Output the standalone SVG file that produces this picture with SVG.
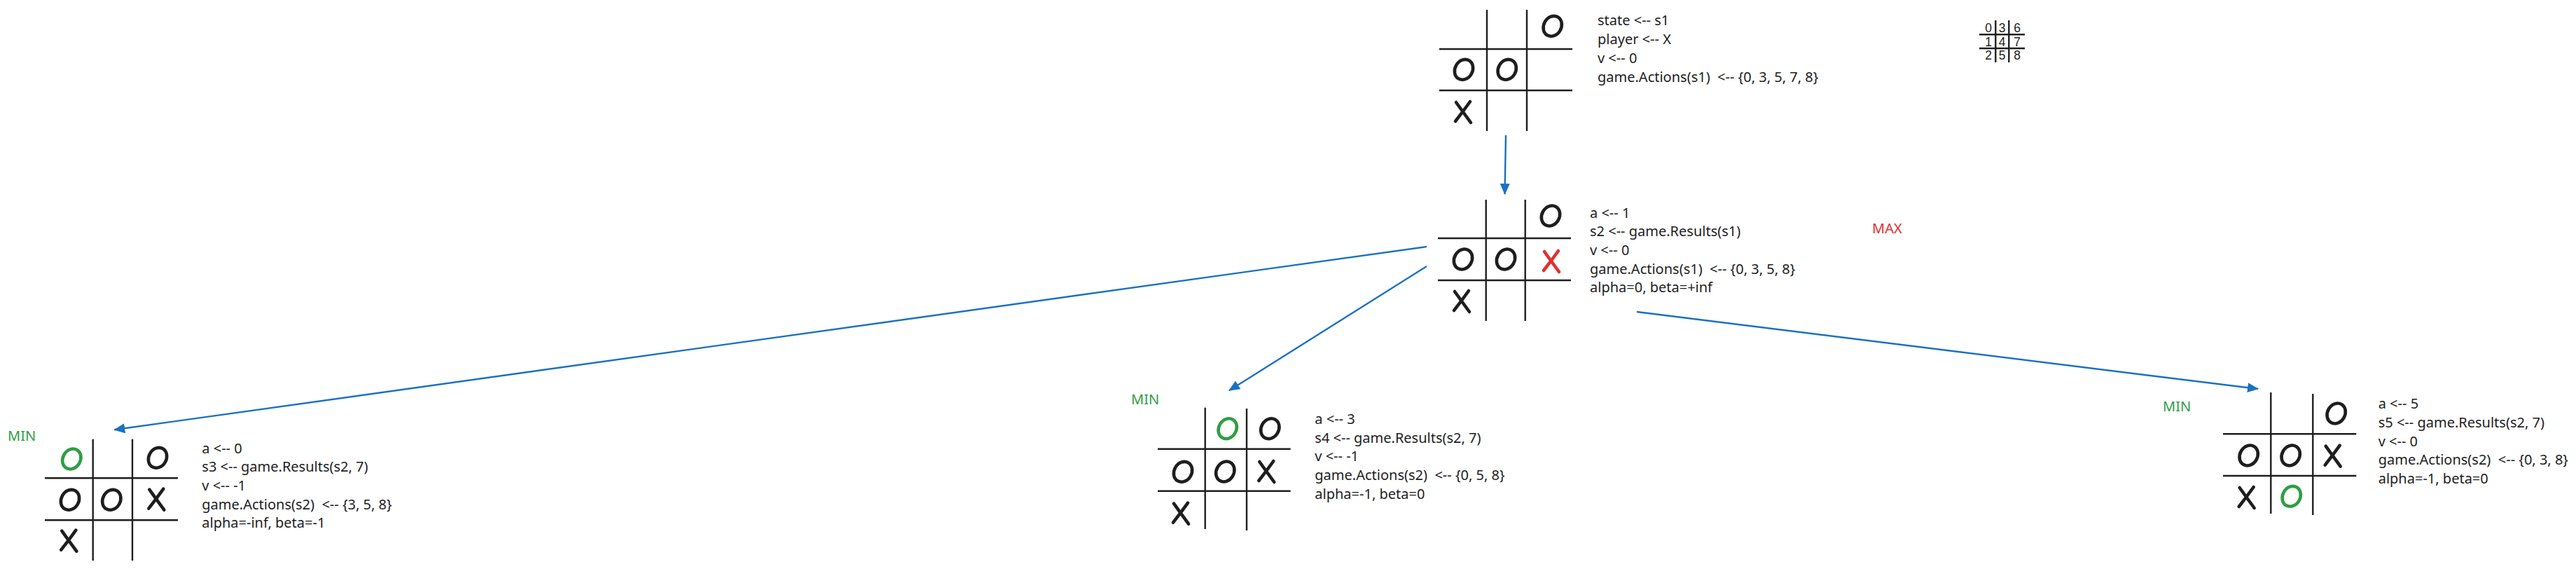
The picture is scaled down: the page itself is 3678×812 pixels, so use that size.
<svg xmlns="http://www.w3.org/2000/svg" xmlns:xlink="http://www.w3.org/1999/xlink" width="3678" height="812" viewBox="0 0 3678 812">
<style>
.grid{stroke:#1e1e1e;stroke-width:2.4;fill:none}
.pc{fill:none;stroke-width:4.6;stroke-linecap:round;stroke-linejoin:round}
.t{font-family:"Noto Sans","Open Sans",sans-serif;font-size:20px;fill:#1e1e1e;white-space:pre}
.min{font-family:"Noto Sans","Open Sans",sans-serif;font-size:20px;fill:#2f9e44}
.max{font-family:"Noto Sans","Open Sans",sans-serif;font-size:20px;fill:#e03131}
.idx{font-family:"Liberation Sans",Arial,sans-serif;font-size:17.5px;fill:#1e1e1e;text-anchor:middle}
.arrow{stroke:#1971c2;stroke-width:2.4;fill:none;marker-end:url(#ah)}
</style>
<defs>
<marker id="ah" markerUnits="userSpaceOnUse" markerWidth="18" markerHeight="16" refX="15" refY="7" orient="auto">
<path d="M0,0 L16,7 L0,14 Z" fill="#1971c2"/>
</marker>
<ellipse id="o" class="pc" cx="0" cy="0" rx="12.5" ry="15" transform="rotate(30)"/>
<path id="x" class="pc" d="M-10,-14 Q0,0 11,15 M10,-15 Q0,-1 -11,13"/>
</defs>
<rect width="3678" height="812" fill="#ffffff"/>

<g id="connectors">
<line class="arrow" x1="2150" y1="193" x2="2148.5" y2="277"/>
<line class="arrow" x1="2037" y1="352" x2="163.3" y2="613.3"/>
<line class="arrow" x1="2037" y1="380" x2="1755" y2="557.3"/>
<line class="arrow" x1="2337" y1="445" x2="3224" y2="555"/>
</g>

<g id="node-s1">
<g class="grid">
<line x1="2123" y1="14" x2="2123" y2="187"/>
<line x1="2180" y1="14" x2="2180" y2="187"/>
<line x1="2055" y1="70" x2="2245" y2="70"/>
<line x1="2055" y1="129" x2="2245" y2="129"/>
</g>
<g stroke="#1e1e1e">
<use xlink:href="#o" href="#o" transform="translate(2216.7,37.3)"/>
<use xlink:href="#o" href="#o" transform="translate(2090,99.3)"/>
<use xlink:href="#o" href="#o" transform="translate(2151.7,99.3)"/>
<use xlink:href="#x" href="#x" transform="translate(2089,160)"/>
</g>
<text class="t" x="2281" y="36">state &lt;-- s1</text>
<text class="t" x="2281" y="63">player &lt;-- X</text>
<text class="t" x="2281" y="90">v &lt;-- 0</text>
<text class="t" x="2281" y="117">game.Actions(s1)  &lt;-- {0, 3, 5, 7, 8}</text>
</g>

<g id="index-grid">
<g class="grid" style="stroke-width:2.4">
<line x1="2849.3" y1="29" x2="2849.3" y2="89"/>
<line x1="2868.3" y1="29" x2="2868.3" y2="89"/>
<line x1="2826" y1="49.3" x2="2891" y2="49.3"/>
<line x1="2826" y1="69" x2="2891" y2="69"/>
</g>
<text class="idx" x="2839" y="46">0</text>
<text class="idx" x="2858.5" y="46">3</text>
<text class="idx" x="2880" y="46">6</text>
<text class="idx" x="2839" y="65.5">1</text>
<text class="idx" x="2858.5" y="65.5">4</text>
<text class="idx" x="2880" y="65.5">7</text>
<text class="idx" x="2839" y="85">2</text>
<text class="idx" x="2858.5" y="85">5</text>
<text class="idx" x="2880" y="85">8</text>
</g>

<g id="node-s2">
<g class="grid">
<line x1="2121.7" y1="285" x2="2121.7" y2="458"/>
<line x1="2177.7" y1="285" x2="2177.7" y2="458"/>
<line x1="2053" y1="340" x2="2243" y2="340"/>
<line x1="2053" y1="400" x2="2243" y2="400"/>
</g>
<g stroke="#1e1e1e">
<use xlink:href="#o" href="#o" transform="translate(2214,308)"/>
<use xlink:href="#o" href="#o" transform="translate(2089,370)"/>
<use xlink:href="#o" href="#o" transform="translate(2150,370)"/>
<use xlink:href="#x" href="#x" transform="translate(2087,430)"/>
</g>
<use xlink:href="#x" href="#x" stroke="#e03131" transform="translate(2215,373)"/>
<text class="t" x="2270" y="310.7">a &lt;-- 1</text>
<text class="t" x="2270" y="337.3">s2 &lt;-- game.Results(s1)</text>
<text class="t" x="2270" y="364">v &lt;-- 0</text>
<text class="t" x="2270" y="390.7">game.Actions(s1)  &lt;-- {0, 3, 5, 8}</text>
<text class="t" x="2270" y="417.3">alpha=0, beta=+inf</text>
<text class="max" x="2673" y="333">MAX</text>
</g>

<g id="node-s3">
<g class="grid">
<line x1="132.7" y1="626.7" x2="132.7" y2="800"/>
<line x1="189" y1="626.7" x2="189" y2="800"/>
<line x1="64" y1="682.3" x2="254" y2="682.3"/>
<line x1="64" y1="742.3" x2="254" y2="742.3"/>
</g>
<use xlink:href="#o" href="#o" stroke="#2f9e44" transform="translate(102.3,655)"/>
<g stroke="#1e1e1e">
<use xlink:href="#o" href="#o" transform="translate(225,653.3)"/>
<use xlink:href="#o" href="#o" transform="translate(100,713.3)"/>
<use xlink:href="#o" href="#o" transform="translate(159.3,713.3)"/>
<use xlink:href="#x" href="#x" transform="translate(223.3,712.7)"/>
<use xlink:href="#x" href="#x" transform="translate(98.3,771.7)"/>
</g>
<text class="min" x="11" y="629">MIN</text>
<text class="t" x="288.3" y="646.7">a &lt;-- 0</text>
<text class="t" x="288.3" y="673.3">s3 &lt;-- game.Results(s2, 7)</text>
<text class="t" x="288.3" y="700">v &lt;-- -1</text>
<text class="t" x="288.3" y="726.7">game.Actions(s2)  &lt;-- {3, 5, 8}</text>
<text class="t" x="288.3" y="753.3">alpha=-inf, beta=-1</text>
</g>

<g id="node-s4">
<g class="grid">
<line x1="1720.7" y1="581.7" x2="1720.7" y2="755"/>
<line x1="1780" y1="583" x2="1780" y2="757"/>
<line x1="1653" y1="640.7" x2="1842.7" y2="640.7"/>
<line x1="1653" y1="700.7" x2="1842.7" y2="700.7"/>
</g>
<use xlink:href="#o" href="#o" stroke="#2f9e44" transform="translate(1752.7,611.7)"/>
<g stroke="#1e1e1e">
<use xlink:href="#o" href="#o" transform="translate(1813.3,611.7)"/>
<use xlink:href="#o" href="#o" transform="translate(1689,673.3)"/>
<use xlink:href="#o" href="#o" transform="translate(1749.3,673)"/>
<use xlink:href="#x" href="#x" transform="translate(1808.3,673)"/>
<use xlink:href="#x" href="#x" transform="translate(1686,732.7)"/>
</g>
<text class="min" x="1615" y="577">MIN</text>
<text class="t" x="1877.3" y="605">a &lt;-- 3</text>
<text class="t" x="1877.3" y="631.7">s4 &lt;-- game.Results(s2, 7)</text>
<text class="t" x="1877.3" y="658.3">v &lt;-- -1</text>
<text class="t" x="1877.3" y="685">game.Actions(s2)  &lt;-- {0, 5, 8}</text>
<text class="t" x="1877.3" y="711.7">alpha=-1, beta=0</text>
</g>

<g id="node-s5">
<g class="grid">
<line x1="3242.3" y1="560" x2="3242.3" y2="733"/>
<line x1="3302.3" y1="562" x2="3302.3" y2="735"/>
<line x1="3174" y1="619.3" x2="3364.3" y2="619.3"/>
<line x1="3174" y1="679" x2="3364.3" y2="679"/>
</g>
<g stroke="#1e1e1e">
<use xlink:href="#o" href="#o" transform="translate(3335.7,590)"/>
<use xlink:href="#o" href="#o" transform="translate(3210.7,650)"/>
<use xlink:href="#o" href="#o" transform="translate(3270.7,650)"/>
<use xlink:href="#x" href="#x" transform="translate(3330.7,650.7)"/>
<use xlink:href="#x" href="#x" transform="translate(3207.7,710)"/>
</g>
<use xlink:href="#o" href="#o" stroke="#2f9e44" transform="translate(3271.7,708.3)"/>
<text class="min" x="3088" y="587">MIN</text>
<text class="t" x="3395.7" y="583.3">a &lt;-- 5</text>
<text class="t" x="3395.7" y="610">s5 &lt;-- game.Results(s2, 7)</text>
<text class="t" x="3395.7" y="636.7">v &lt;-- 0</text>
<text class="t" x="3395.7" y="663.3">game.Actions(s2)  &lt;-- {0, 3, 8}</text>
<text class="t" x="3395.7" y="690">alpha=-1, beta=0</text>
</g>
</svg>
